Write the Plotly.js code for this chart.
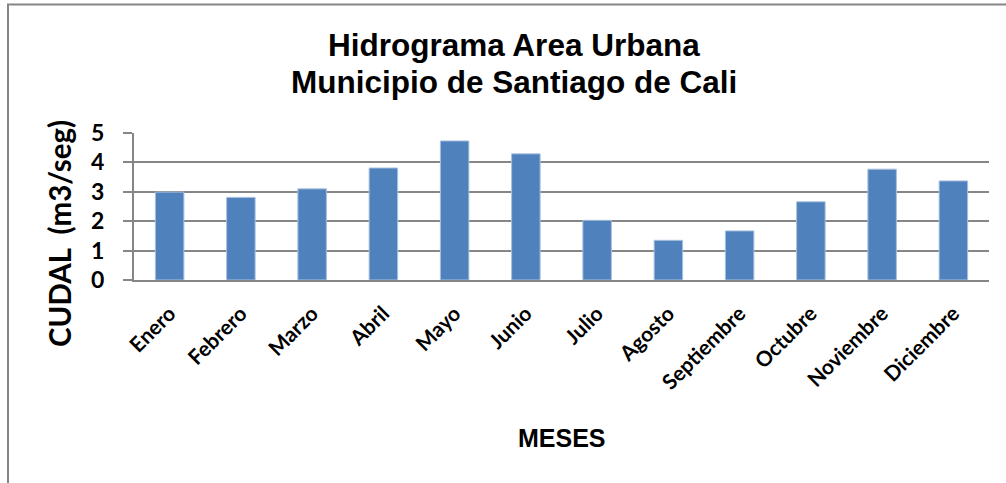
<!DOCTYPE html>
<html>
<head>
<meta charset="utf-8">
<script src="https://cdn.plot.ly/plotly-3.0.1.min.js"></script>
<style>
  html, body { margin: 0; padding: 0; background: #fff; }
  #chart { width: 1006px; height: 483px; }
</style>
</head>
<body>
<div id="chart"></div>
<script>
const meses = ["Enero", "Febrero", "Marzo", "Abril", "Mayo", "Junio", "Julio", "Agosto", "Septiembre", "Octubre", "Noviembre", "Diciembre"];
const caudal = [2.99, 2.81, 3.10, 3.81, 4.73, 4.29, 2.03, 1.35, 1.67, 2.66, 3.77, 3.37];
const yTicks = [0, 1, 2, 3, 4, 5];
const tituloLineas = ['Hidrograma Area Urbana', 'Municipio de Santiago de Cali'];

const W = 1006, H = 483;
const L = 134, R = 17, T = 133, B = 203;
const pw = W - L - R, ph = H - T - B;
const px = x => (x - L) / pw;
const py = y => (H - B - y) / ph;

const grey = '#868686';
const titleFont = { family: 'Liberation Sans, Arial, sans-serif', size: 31.5, color: '#000', weight: 'bold' };

const trace = {
  type: 'bar',
  x: meses,
  y: caudal,
  marker: { color: '#4F81BD', line: { color: '#a9c0de', width: 1 } },
  hoverinfo: 'x+y'
};

const layout = {
  width: W, height: H,
  margin: { l: L, r: R, t: T, b: B, pad: 0 },
  paper_bgcolor: '#ffffff',
  plot_bgcolor: '#ffffff',
  showlegend: false,
  bargap: 0.6,
  xaxis: {
    type: 'category',
    tickangle: -45,
    tickfont: { family: 'Lato, sans-serif', size: 21, color: '#000', weight: 'bold' },
    showline: true, linecolor: grey, linewidth: 2,
    ticks: '',
    ticklabelstandoff: 11,
    showgrid: false,
    fixedrange: true
  },
  yaxis: {
    range: [0, 5],
    tickvals: yTicks,
    ticktext: yTicks.map(String),
    tickfont: { family: 'Lato, sans-serif', size: 23, color: '#000', weight: 'bold' },
    showline: true, linecolor: grey, linewidth: 2,
    ticks: 'outside', ticklen: 9, tickwidth: 2, tickcolor: grey,
    ticklabelstandoff: 14,
    showgrid: true, gridcolor: grey, gridwidth: 2,
    zeroline: false,
    fixedrange: true
  },
  annotations: [
    {
      text: tituloLineas[0],
      xref: 'paper', yref: 'paper',
      x: px(514), y: py(45.5),
      xanchor: 'center', yanchor: 'middle',
      showarrow: false,
      font: titleFont
    },
    {
      text: tituloLineas[1],
      xref: 'paper', yref: 'paper',
      x: px(514), y: py(81.5),
      xanchor: 'center', yanchor: 'middle',
      showarrow: false,
      font: titleFont
    },
    {
      text: 'CUDAL\u00a0 (m3/seg)',
      textangle: -90,
      xref: 'paper', yref: 'paper',
      x: px(59), y: py(234),
      xanchor: 'center', yanchor: 'middle',
      showarrow: false,
      font: { family: 'Lato, sans-serif', size: 29.5, color: '#000', weight: 'bold' }
    },
    {
      text: 'MESES',
      xref: 'paper', yref: 'paper',
      x: px(562), y: py(438),
      xanchor: 'center', yanchor: 'middle',
      showarrow: false,
      font: { family: 'Liberation Sans, Arial, sans-serif', size: 25, color: '#000', weight: 'bold' }
    }
  ],
  shapes: [
    { type: 'line', xref: 'paper', yref: 'paper', x0: px(8), x1: px(8), y0: py(4), y1: py(495), line: { color: grey, width: 2 } },
    { type: 'line', xref: 'paper', yref: 'paper', x0: px(7), x1: px(1015), y0: py(4.5), y1: py(4.5), line: { color: grey, width: 2 } }
  ]
};

Plotly.newPlot('chart', [trace], layout, { displayModeBar: false, staticPlot: true });
</script>
</body>
</html>
